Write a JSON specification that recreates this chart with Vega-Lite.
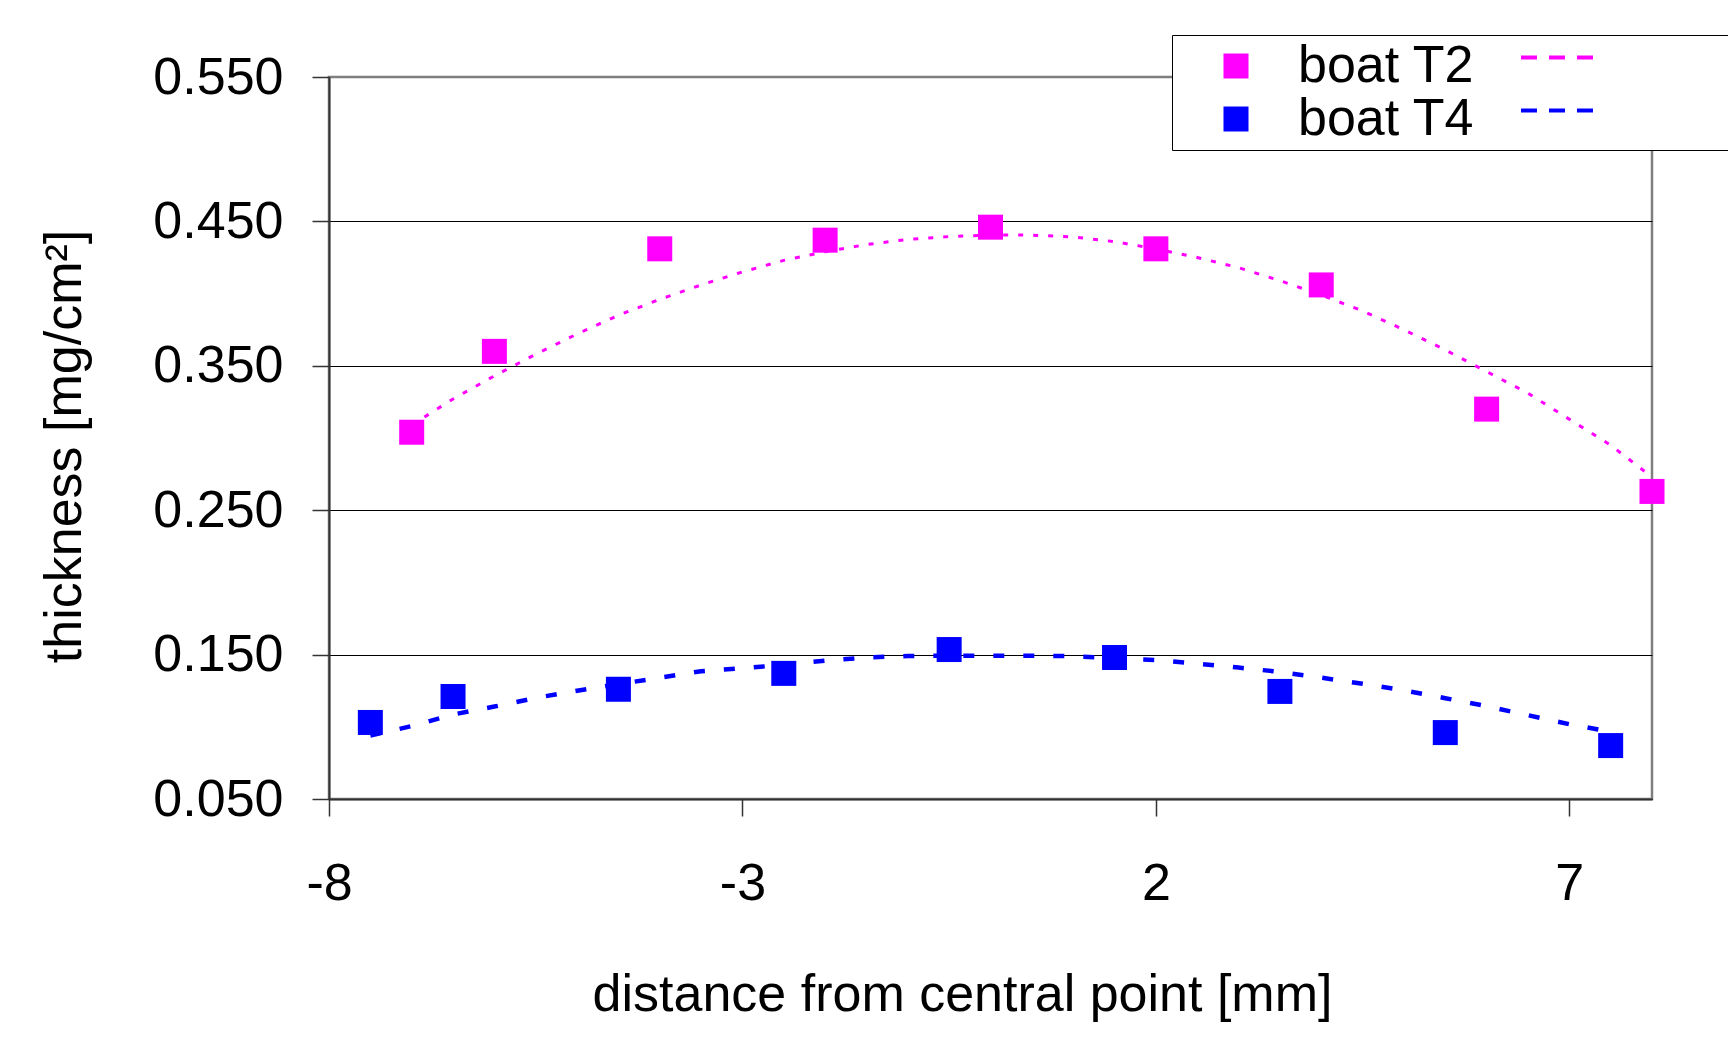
{
  "$schema": "https://vega.github.io/schema/vega-lite/v6.json",
  "width": 1323,
  "height": 722,
  "autosize": "none",
  "padding": {"left": 329, "top": 77, "right": 76, "bottom": 240},
  "background": "white",
  "datasets": {
    "points": [
      {"series": "boat T2", "x": -7, "y": 0.304},
      {"series": "boat T2", "x": -6, "y": 0.360},
      {"series": "boat T2", "x": -4, "y": 0.431},
      {"series": "boat T2", "x": -2, "y": 0.437},
      {"series": "boat T2", "x": 0, "y": 0.446},
      {"series": "boat T2", "x": 2, "y": 0.431},
      {"series": "boat T2", "x": 4, "y": 0.406},
      {"series": "boat T2", "x": 6, "y": 0.320},
      {"series": "boat T2", "x": 8, "y": 0.263},
      {"series": "boat T4", "x": -7.5, "y": 0.103},
      {"series": "boat T4", "x": -6.5, "y": 0.121},
      {"series": "boat T4", "x": -4.5, "y": 0.126},
      {"series": "boat T4", "x": -2.5, "y": 0.137},
      {"series": "boat T4", "x": -0.5, "y": 0.1535},
      {"series": "boat T4", "x": 1.5, "y": 0.148},
      {"series": "boat T4", "x": 3.5, "y": 0.1245},
      {"series": "boat T4", "x": 5.5, "y": 0.096},
      {"series": "boat T4", "x": 7.5, "y": 0.087}
    ],
    "trend": [
      {"series": "boat T2", "x": -7, "y": 0.309},
      {"series": "boat T2", "x": -6.5, "y": 0.327},
      {"series": "boat T2", "x": -6, "y": 0.343},
      {"series": "boat T2", "x": -5.5, "y": 0.358},
      {"series": "boat T2", "x": -5, "y": 0.372},
      {"series": "boat T2", "x": -4.5, "y": 0.385},
      {"series": "boat T2", "x": -4, "y": 0.396},
      {"series": "boat T2", "x": -3.5, "y": 0.406},
      {"series": "boat T2", "x": -3, "y": 0.415},
      {"series": "boat T2", "x": -2.5, "y": 0.423},
      {"series": "boat T2", "x": -2, "y": 0.429},
      {"series": "boat T2", "x": -1.5, "y": 0.434},
      {"series": "boat T2", "x": -1, "y": 0.4375},
      {"series": "boat T2", "x": -0.5, "y": 0.4395},
      {"series": "boat T2", "x": 0, "y": 0.4405},
      {"series": "boat T2", "x": 0.5, "y": 0.4405},
      {"series": "boat T2", "x": 1, "y": 0.4392},
      {"series": "boat T2", "x": 1.5, "y": 0.436},
      {"series": "boat T2", "x": 2, "y": 0.431},
      {"series": "boat T2", "x": 2.5, "y": 0.425},
      {"series": "boat T2", "x": 3, "y": 0.418},
      {"series": "boat T2", "x": 3.5, "y": 0.409},
      {"series": "boat T2", "x": 4, "y": 0.399},
      {"series": "boat T2", "x": 4.5, "y": 0.388},
      {"series": "boat T2", "x": 5, "y": 0.375},
      {"series": "boat T2", "x": 5.5, "y": 0.361},
      {"series": "boat T2", "x": 6, "y": 0.346},
      {"series": "boat T2", "x": 6.5, "y": 0.331},
      {"series": "boat T2", "x": 7, "y": 0.313},
      {"series": "boat T2", "x": 7.5, "y": 0.295},
      {"series": "boat T2", "x": 8, "y": 0.273},
      {"series": "boat T4", "x": -7.5, "y": 0.094},
      {"series": "boat T4", "x": -7, "y": 0.1005},
      {"series": "boat T4", "x": -6.5, "y": 0.1085},
      {"series": "boat T4", "x": -6, "y": 0.114},
      {"series": "boat T4", "x": -5.5, "y": 0.120},
      {"series": "boat T4", "x": -5, "y": 0.125},
      {"series": "boat T4", "x": -4.5, "y": 0.1295},
      {"series": "boat T4", "x": -4, "y": 0.134},
      {"series": "boat T4", "x": -3.5, "y": 0.1385},
      {"series": "boat T4", "x": -3, "y": 0.1405},
      {"series": "boat T4", "x": -2.5, "y": 0.143},
      {"series": "boat T4", "x": -2, "y": 0.1458},
      {"series": "boat T4", "x": -1.5, "y": 0.148},
      {"series": "boat T4", "x": -1, "y": 0.149},
      {"series": "boat T4", "x": -0.5, "y": 0.1492},
      {"series": "boat T4", "x": 0, "y": 0.1492},
      {"series": "boat T4", "x": 0.5, "y": 0.1492},
      {"series": "boat T4", "x": 1, "y": 0.1489},
      {"series": "boat T4", "x": 1.5, "y": 0.1475},
      {"series": "boat T4", "x": 2, "y": 0.1462},
      {"series": "boat T4", "x": 2.5, "y": 0.1437},
      {"series": "boat T4", "x": 3, "y": 0.141},
      {"series": "boat T4", "x": 3.5, "y": 0.138},
      {"series": "boat T4", "x": 4, "y": 0.134},
      {"series": "boat T4", "x": 4.5, "y": 0.1298},
      {"series": "boat T4", "x": 5, "y": 0.1252},
      {"series": "boat T4", "x": 5.5, "y": 0.1198},
      {"series": "boat T4", "x": 6, "y": 0.1143},
      {"series": "boat T4", "x": 6.5, "y": 0.108},
      {"series": "boat T4", "x": 7, "y": 0.1018},
      {"series": "boat T4", "x": 7.5, "y": 0.0965}
    ]
  },
  "config": {
    "font": "Liberation Sans",
    "view": {"stroke": "#7f7f7f", "strokeWidth": 2.5},
    "axis": {
      "labelFont": "Liberation Sans",
      "titleFont": "Liberation Sans",
      "labelFontSize": 52,
      "titleFontSize": 52,
      "titleFontWeight": "normal",
      "labelColor": "#000000",
      "titleColor": "#000000",
      "domainColor": "#333333",
      "domainWidth": 2,
      "tickColor": "#333333",
      "tickWidth": 1.5,
      "tickSize": 17,
      "labelFlush": false,
      "labelOverlap": false
    }
  },
  "layer": [
    {
      "data": {"name": "points"},
      "mark": {"type": "point", "shape": "square", "filled": true, "size": 625, "opacity": 1, "strokeWidth": 0},
      "encoding": {
        "x": {
          "field": "x", "type": "quantitative",
          "scale": {"domain": [-8, 8], "nice": false, "zero": false},
          "axis": {
            "values": [-8, -3, 2, 7],
            "labelExpr": "'' + datum.value",
            "title": "distance from central point [mm]",
            "grid": false,
            "labelPadding": 42,
            "titlePadding": 60,
            "titleX": 633
          }
        },
        "y": {
          "field": "y", "type": "quantitative",
          "scale": {"domain": [0.05, 0.55], "nice": false, "zero": false},
          "axis": {
            "values": [0.05, 0.15, 0.25, 0.35, 0.45, 0.55],
            "format": ".3f",
            "title": "thickness [mg/cm²]",
            "grid": true,
            "gridColor": {"condition": {"test": "datum.value > 0.54", "value": "#7f7f7f"}, "value": "#000000"},
            "gridWidth": 1,
            "labelPadding": 29,
            "titlePadding": 61,
            "titleY": 369
          }
        },
        "color": {
          "field": "series", "type": "nominal",
          "scale": {"domain": ["boat T2", "boat T4"], "range": ["#FF00FF", "#0000FF"]},
          "legend": {
            "title": null,
            "orient": "none",
            "legendX": 843,
            "legendY": -42,
            "direction": "vertical",
            "padding": 5,
            "strokeColor": "#000000",
            "fillColor": "#ffffff",
            "labelFont": "Liberation Sans",
            "labelFontSize": 52,
            "labelColor": "#000000",
            "labelLimit": 500,
            "symbolType": "M-2.27,0M-0.481,-0.481H0.481V0.481H-0.481ZM10.962,-0.400H11.577V-0.246H10.962ZM12.038,-0.400H12.654V-0.246H12.038ZM13.115,-0.400H13.731V-0.246H13.115ZM20.3,0",
            "symbolSize": 2704,
            "symbolStrokeWidth": 0,
            "symbolOpacity": 1,
            "symbolOffset": 33,
            "labelOffset": 36,
            "rowPadding": 1
          }
        }
      }
    },
    {
      "data": {"name": "trend"},
      "transform": [{"filter": "datum.series === 'boat T2'"}],
      "mark": {"type": "line", "color": "#FF00FF", "strokeWidth": 3, "strokeDash": [5, 10]},
      "encoding": {
        "x": {"field": "x", "type": "quantitative"},
        "y": {"field": "y", "type": "quantitative"}
      }
    },
    {
      "data": {"name": "trend"},
      "transform": [{"filter": "datum.series === 'boat T4'"}],
      "mark": {"type": "line", "color": "#0000FF", "strokeWidth": 4.5, "strokeDash": [11, 19]},
      "encoding": {
        "x": {"field": "x", "type": "quantitative"},
        "y": {"field": "y", "type": "quantitative"}
      }
    }
  ]
}
